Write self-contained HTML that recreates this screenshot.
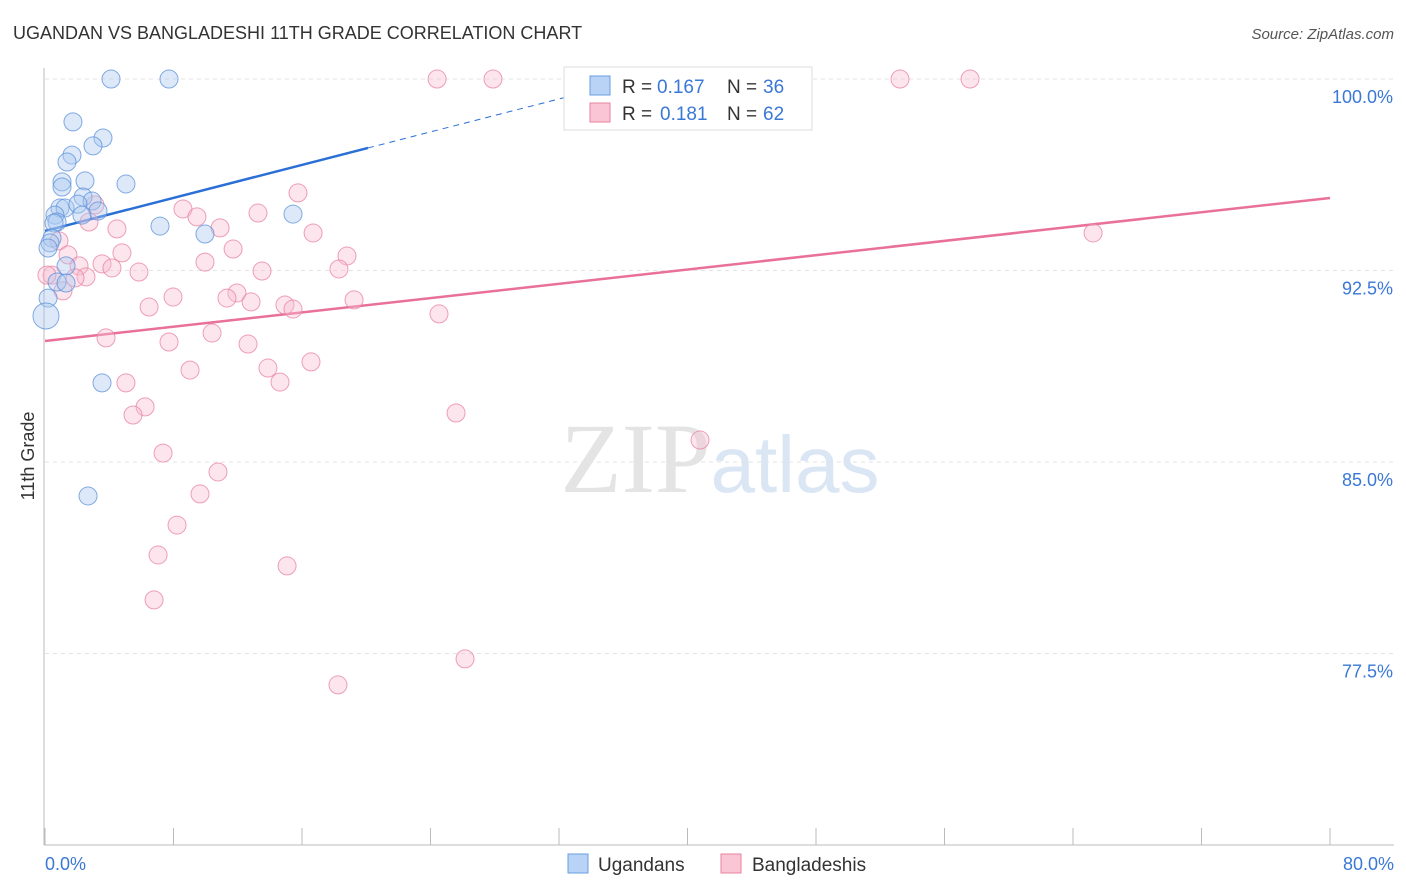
<!DOCTYPE html>
<html><head><meta charset="utf-8">
<style>
body{margin:0;background:#fff;font-family:"Liberation Sans",sans-serif;}
svg{display:block}
</style></head>
<body>
<svg id="chart" width="1406" height="892" xmlns="http://www.w3.org/2000/svg">
<text x="13" y="39" font-size="18" fill="#333" font-family="Liberation Sans, sans-serif">UGANDAN VS BANGLADESHI 11TH GRADE CORRELATION CHART</text>
<text x="1394" y="39" font-size="15" fill="#555" text-anchor="end" font-style="italic">Source: ZipAtlas.com</text>
<text x="720" y="492" font-size="100" text-anchor="middle" fill="#e4e4e4" font-family="Liberation Serif, serif">ZIP<tspan fill="#dbe6f5" font-family="Liberation Sans, sans-serif" font-size="80">atlas</tspan></text>
<text transform="translate(34,456) rotate(-90)" font-size="18" fill="#333" text-anchor="middle">11th Grade</text>
<g id="grid"></g>
<g id="axes"></g>
<g id="lines"></g>
<g id="points"></g>
<g>
<rect x="564" y="67" width="248" height="63" fill="#fff" stroke="#ddd"/>
<rect x="590" y="76" width="20" height="19" fill="#b8d3f5" stroke="#6a9de0"/>
<rect x="590" y="103" width="20" height="19" fill="#fac6d6" stroke="#e8829f"/>
<text x="622" y="93" font-size="19" fill="#333">R =</text>
<text x="657" y="93" font-size="19" fill="#3a78d6">0.167</text>
<text x="727" y="93" font-size="19" fill="#333">N =</text>
<text x="763" y="93" font-size="19" fill="#3a78d6">36</text>
<text x="622" y="120" font-size="19" fill="#333">R =</text>
<text x="660" y="120" font-size="19" fill="#3a78d6">0.181</text>
<text x="727" y="120" font-size="19" fill="#333">N =</text>
<text x="763" y="120" font-size="19" fill="#3a78d6">62</text>
</g>
<g>
<rect x="568" y="854" width="20" height="19" fill="#b8d3f5" stroke="#6a9de0"/>
<text x="598" y="871" font-size="19" fill="#333">Ugandans</text>
<rect x="721" y="854" width="20" height="19" fill="#fac6d6" stroke="#e8829f"/>
<text x="752" y="871" font-size="19" fill="#333">Bangladeshis</text>
</g>
</svg>
<script>
const ugX=[4.11,7.72,1.74,3.61,2.99,1.68,1.37,1.06,2.49,5.04,1.06,2.37,2.93,0.93,1.25,2.05,3.30,0.62,2.30,15.44,0.75,0.56,7.16,9.96,0.44,0.31,0.19,1.31,0.75,1.31,0.19,0.06,3.55,2.68];
const ugY=[100,100,98.32,97.69,97.38,97.02,96.75,95.97,96.01,95.89,95.77,95.38,95.22,94.95,94.95,95.10,94.83,94.67,94.67,94.71,94.40,94.36,94.24,93.93,93.77,93.58,93.38,92.68,92.05,92.01,91.42,90.72,88.10,83.67];
const bdX=[24.41,27.89,53.23,57.59,15.75,8.59,3.11,9.46,13.26,2.74,10.90,4.48,16.69,65.25,0.87,11.71,4.79,1.43,18.80,9.96,3.55,2.12,4.17,13.51,5.85,18.30,0.44,2.55,1.87,1.12,11.95,7.97,11.33,12.83,14.94,19.24,6.48,15.44,24.53,10.40,3.80,7.72,12.64,16.56,9.03,13.88,14.63,5.04,6.23,5.48,25.59,40.78,7.35,10.77,9.65,8.22,7.04,15.07,6.79,26.15,18.24,0.12];
const bdY=[100,100,100,100,95.54,94.91,95.07,94.60,94.75,94.40,94.17,94.13,93.97,93.97,93.66,93.34,93.19,93.11,93.07,92.83,92.76,92.68,92.60,92.48,92.44,92.56,92.32,92.25,92.21,91.70,91.62,91.46,91.42,91.27,91.15,91.35,91.07,90.99,90.80,90.05,89.86,89.70,89.62,88.92,88.60,88.68,88.13,88.10,87.16,86.84,86.92,85.86,85.35,84.61,83.75,82.53,81.36,80.93,79.60,77.29,76.27,92.32];
const ugTrend=[0,94.05,20.11,97.30,33.93,99.53];
const bdTrend=[0,89.74,80,95.34];
const yTicks=[100,92.5,85,77.5];
const yTickLabels=["100.0%","92.5%","85.0%","77.5%"];
const xTickVals=[0,8,16,24,32,40,48,56,64,72,80];

const X=v=>45+v/80*1285;
const Y=v=>79+(100-v)/7.5*191.5;
const NS="http://www.w3.org/2000/svg";
function mk(parent,tag,attrs){const e=document.createElementNS(NS,tag);for(const k in attrs)e.setAttribute(k,attrs[k]);parent.appendChild(e);return e;}
const grid=document.getElementById('grid'),axes=document.getElementById('axes'),lines=document.getElementById('lines'),pts=document.getElementById('points');
yTicks.forEach((t,i)=>{
 const l=mk(grid,'line',{x1:45,x2:1394,y1:Y(t),y2:Y(t),stroke:'#e3e3e3','stroke-dasharray':'4,4'});
 
 
 const tx=mk(grid,'text',{x:1393,y:Y(t)+24,'font-size':18,fill:'#3a78d6','text-anchor':'end'});
 tx.textContent=yTickLabels[i];
 
 
});
const ax=mk(axes,'line',{x1:44,x2:44,y1:68,y2:845,stroke:'#bbb'});


const bx=mk(axes,'line',{x1:44,x2:1394,y1:845,y2:845,stroke:'#bbb'});


xTickVals.forEach(v=>{
 const t=mk(axes,'line',{x1:X(v),x2:X(v),y1:828,y2:845,stroke:'#bbb'});
 
 
});
const xl0=mk(axes,'text',{x:45,y:870,'font-size':18,fill:'#3a78d6'});xl0.textContent="0.0%";


const xl1=mk(axes,'text',{x:1394,y:870,'font-size':18,fill:'#3a78d6','text-anchor':'end'});xl1.textContent="80.0%";



function dot(x,y,r,fill,stroke,name){
 const c=mk(pts,'circle',{cx:X(x),cy:Y(y),r:r,fill:fill,'fill-opacity':0.4,stroke:stroke,'stroke-opacity':0.75,'stroke-width':1});
 
 
}
bdX.forEach((x,i)=>dot(x,bdY[i],9,'#f7bfd1','#e8829f','bangladeshi-point'));
ugX.forEach((x,i)=>dot(x,ugY[i],i===31?13:9,'#a9c8f0','#5b90da','ugandan-point'));

const l1=mk(lines,'line',{x1:X(ugTrend[0]),y1:Y(ugTrend[1]),x2:X(ugTrend[2]),y2:Y(ugTrend[3]),stroke:'#2a6fd6','stroke-width':2.5});


const l2=mk(lines,'line',{x1:X(ugTrend[2]),y1:Y(ugTrend[3]),x2:X(ugTrend[4]),y2:Y(ugTrend[5]),stroke:'#2a6fd6','stroke-width':1,'stroke-dasharray':'6,5'});


const l3=mk(lines,'line',{x1:X(bdTrend[0]),y1:Y(bdTrend[1]),x2:X(bdTrend[2]),y2:Y(bdTrend[3]),stroke:'#e8709a','stroke-width':2.5});


</script>
</body></html>
